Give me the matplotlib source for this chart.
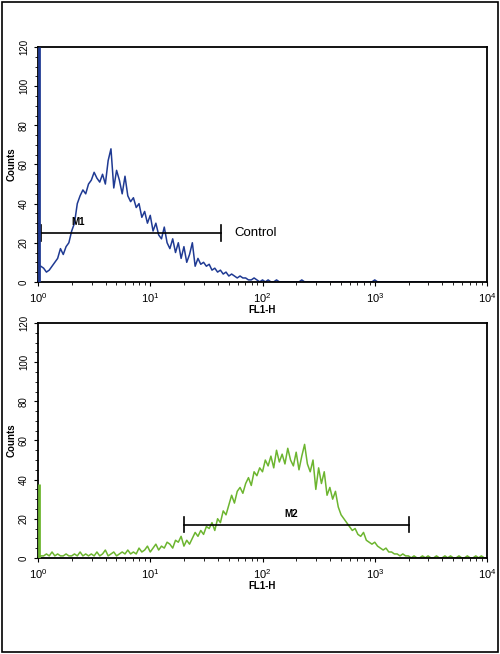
import numpy as np
import matplotlib
matplotlib.use("Agg")
import matplotlib.pyplot as plt
from matplotlib.patches import Rectangle

plt.rcParams['font.family'] = ['Liberation Sans', 'DejaVu Sans']

bin_step = 0.025  # decades per bin
control_counts = [120,8,7,5,6,8,10,12,17,14,18,20,26,30,40,44,47,45,50,52,56,53,51,55,50,62,68,48,57,52,
                  45,54,44,41,43,38,40,33,36,30,34,26,30,24,22,28,20,17,22,15,20,12,18,10,14,20,8,12,9,10,
                  8,9,6,7,5,6,4,5,3,4,3,2,3,2,2,1,1,2,1,0,1,0,1,0,0,1,0,0,0,0,
                  0,0,0,0,1,0,0,0,0,0,0,0,0,0,0,0,0,0,0,0,0,0,0,0,0,0,0,0,0,0,
                  1,0,0,0,0,0,0,0,0,0,0,0,0,0,0,0,0,0,0,0,0,0,0,0,0,0,0,0,0,0,0]
sample_counts = [38,1,1,2,1,3,1,2,1,1,2,1,1,2,1,3,1,2,1,2,1,3,1,2,4,1,2,3,1,2,
                 3,2,4,2,3,2,5,3,4,6,3,5,7,4,6,5,8,7,5,9,8,11,
                 6,9,7,10,13,11,14,12,16,15,18,14,20,18,24,22,27,32,28,34,36,33,38,41,37,44,42,46,
                 44,50,47,52,46,55,49,53,48,56,50,47,54,45,52,58,48,44,50,35,46,38,44,32,36,30,
                 34,26,22,20,18,16,14,15,12,11,13,9,8,7,8,6,5,4,5,3,3,2,2,1,2,1,1,0,
                 1,0,0,1,0,1,0,0,1,0,0,1,0,1,0,0,1,0,0,1,0,0,1,0,1,0,0,1]

fig = plt.figure(figsize=(5.0, 6.54), dpi=100)
fig.patches.append(Rectangle((0.004, 0.003), 0.992, 0.994, transform=fig.transFigure,
                             fill=False, ec='black', lw=1.2))

def panel(rect, counts, color, gate, gate_y, label, label_x, extra=None):
    ax = fig.add_axes(rect)
    c = np.array(counts, dtype=float)
    x = 10 ** (np.arange(len(c)) * bin_step)
    ax.vlines(1.03, 0, c[0], color=color, lw=2.0, zorder=5)
    ax.plot(x[1:], c[1:], color=color, lw=1.1)
    ax.set_xscale('log')
    ax.set_xlim(1, 1e4)
    ax.set_ylim(0, 120)
    ax.set_yticks(range(0, 121, 20))
    ax.set_yticks(range(0, 121, 5), minor=True)
    ax.tick_params(axis='y', labelrotation=90, labelsize=7, length=3)
    ax.tick_params(axis='y', which='minor', length=2)
    ax.tick_params(axis='x', labelsize=8, length=3)
    for lab in ax.get_yticklabels():
        lab.set_va('center')
    ax.set_xlabel('FL1-H', fontsize=7, fontweight='bold', labelpad=0)
    ax.set_ylabel('Counts', fontsize=7, fontweight='bold', labelpad=2)
    for s in ax.spines.values():
        s.set_linewidth(1.3)
    ax.plot(gate, [gate_y, gate_y], color='black', lw=1.2)
    for g in gate:
        ax.plot([g, g], [gate_y - 4, gate_y + 4], color='black', lw=1.2)
    ax.text(label_x, gate_y + 3, label, fontsize=7, fontweight='bold', ha='center', va='bottom')
    if extra:
        ax.text(gate[1] * 1.3, gate_y, extra, fontsize=9.5, va='center')
    return ax

panel([0.076, 0.569, 0.898, 0.359], control_counts, '#1f3a93', [1.06, 43], 25, 'M1', 2.3, 'Control')
panel([0.076, 0.147, 0.898, 0.359], sample_counts, '#6cb52f', [20, 2000], 17, 'M2', 180)

fig.savefig('out.png', dpi=100)
